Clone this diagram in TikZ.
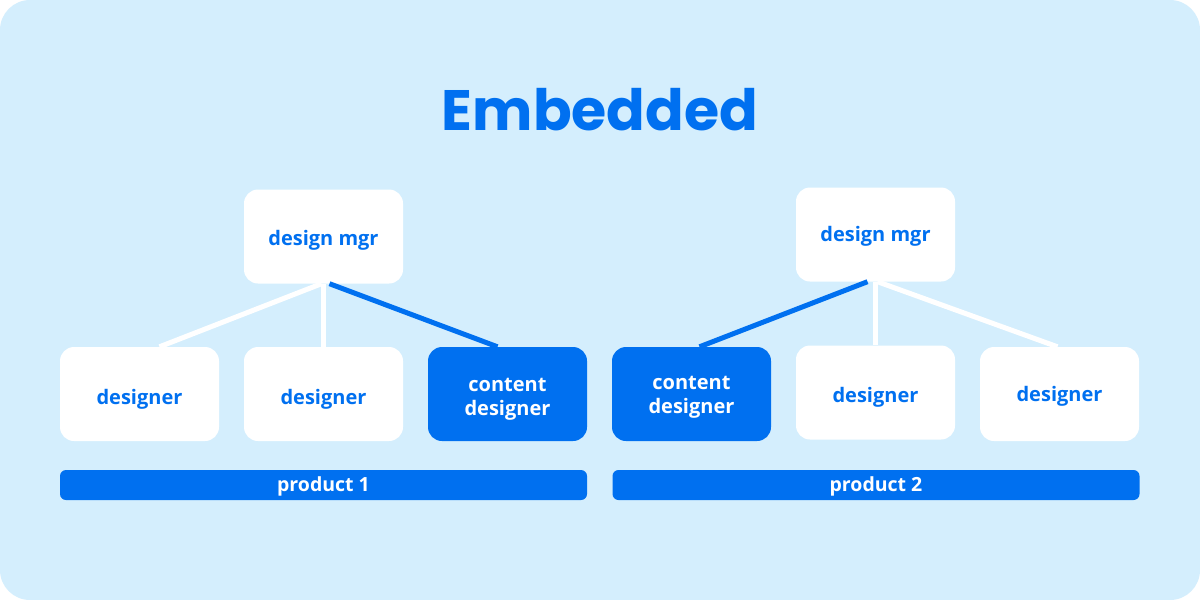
\documentclass[tikz,border=0pt]{standalone}
\usepackage{fontspec}
\setmainfont{Open Sans}
\newfontfamily\titlefont{Poppins}
\definecolor{bg}{HTML}{D4EEFD}
\definecolor{acc}{HTML}{0070F0}
\newcommand{\lbl}[2][3pt]{\raisebox{-#1}[\height][\depth]{\begin{tabular}{@{}c@{}}#2\end{tabular}}}
\begin{document}
\begin{tikzpicture}[x=1pt,y=-1pt,
  box/.style={rounded corners=14pt,minimum width=159pt,minimum height=94pt,inner sep=0pt,align=center,font=\fontsize{20}{24}\selectfont\bfseries},
  wbox/.style={box,fill=white,text=acc},
  bbox/.style={box,fill=acc,text=white},
  bar/.style={rounded corners=6pt,fill=acc,text=white,minimum width=527pt,minimum height=30pt,inner sep=0pt,font=\fontsize{19.5}{22}\selectfont\bfseries},
  wline/.style={draw=white,line width=5pt},
  bline/.style={draw=acc,line width=5pt}]
\useasboundingbox (0,0) rectangle (1200,600);
\fill[white] (0,0) rectangle (1200,600);
\fill[bg,rounded corners=30pt] (0,0) rectangle (1200,600);
\node[text=acc,font=\fontsize{57}{60}\selectfont\titlefont\bfseries] (title) at (600,110) {Embedded};
% left group
\node[wbox] (m1) at (323.5,236.5) {\lbl[4pt]{design mgr}};
\node[wbox] (d1) at (139.5,394) {\lbl[6pt]{designer}};
\node[wbox] (d2) at (323.5,394) {\lbl[6pt]{designer}};
\node[bbox] (c1) at (507.5,394) {\lbl[5pt]{content\\designer}};
\node[bar] (p1) at (323.5,485) {\lbl[2.5pt]{product 1}};
% right group
\node[wbox] (m2) at (875.5,234.5) {\lbl[2pt]{design mgr}};
\node[bbox] (c2) at (691.5,394) {\lbl[3pt]{content\\designer}};
\node[wbox] (d3) at (875.5,392.5) {\lbl[5pt]{designer}};
\node[wbox] (d4) at (1059.5,394) {\lbl[3pt]{designer}};
\node[bar] (p2) at (876,485) {\lbl[2.5pt]{product 2}};
% connectors
\draw[wline] ([xshift=-2pt]m1.south) -- ([xshift=20pt]d1.north);
\draw[wline] (m1.south) -- (d2.north);
\draw[bline] ([xshift=6pt]m1.south) -- ([xshift=-10pt]c1.north);
\draw[bline] ([xshift=-8pt]m2.south) -- ([xshift=8pt]c2.north);
\draw[wline] (m2.south) -- (d3.north);
\draw[wline] ([xshift=2pt]m2.south) -- ([xshift=-2pt]d4.north);
\end{tikzpicture}
\end{document}
